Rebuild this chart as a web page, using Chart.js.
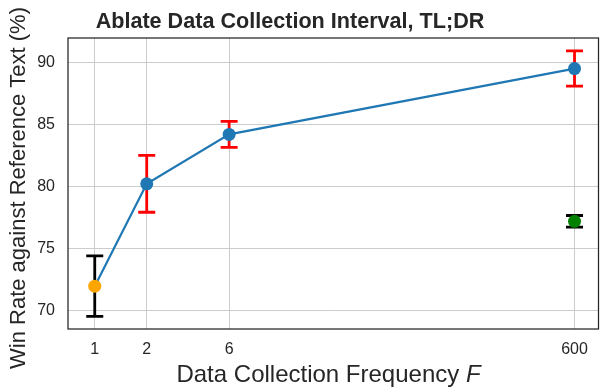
<!DOCTYPE html>
<html>
<head>
<meta charset="utf-8">
<script src="https://cdn.jsdelivr.net/npm/chart.js@4"></script>
<style>
  html, body { margin: 0; padding: 0; background: #fff; }
  #wrap { width: 605px; height: 389px; position: relative; }
</style>
</head>
<body>
<div id="wrap"><canvas id="chart"></canvas></div>
<script>
// data
const freq = [1, 2, 6, 600];
const winRate = [72.0, 80.24, 84.22, 89.52];
const winErr = [2.43, 2.29, 1.05, 1.42];
const baseFreq = [600];
const baseRate = [77.22];
const baseErr = [0.47];
const xTicks = [1, 2, 6, 600];
const yTicks = [70, 75, 80, 85, 90];

const FONT = '"Liberation Sans", Arial, sans-serif';
const INK = '#262626';

// error bars + frame + titles drawn through the scales
const extras = {
    id: 'extras',
    beforeDatasetsDraw(chart) {
        const { ctx, scales: { x, y } } = chart;
        const bars = [
            { xs: freq, ys: winRate, es: winErr, colors: ['#000000', '#ff0000', '#ff0000', '#ff0000'] },
            { xs: baseFreq, ys: baseRate, es: baseErr, colors: ['#000000'] }
        ];
        ctx.save();
        ctx.lineWidth = 2.8;
        ctx.lineCap = 'butt';
        bars.forEach(b => {
            b.xs.forEach((v, i) => {
                const px = x.getPixelForValue(v);
                const top = y.getPixelForValue(b.ys[i] + b.es[i]);
                const bot = y.getPixelForValue(b.ys[i] - b.es[i]);
                ctx.strokeStyle = b.colors[i];
                ctx.beginPath();
                ctx.moveTo(px, top); ctx.lineTo(px, bot);
                ctx.moveTo(px - 8.5, top); ctx.lineTo(px + 8.5, top);
                ctx.moveTo(px - 8.5, bot); ctx.lineTo(px + 8.5, bot);
                ctx.stroke();
            });
        });
        ctx.restore();
    },
    afterDraw(chart) {
        const { ctx, chartArea: a } = chart;
        ctx.save();
        ctx.strokeStyle = INK;
        ctx.lineWidth = 1.25;
        ctx.strokeRect(a.left, a.top, a.right - a.left, a.bottom - a.top);

        ctx.fillStyle = INK;
        ctx.textBaseline = 'alphabetic';
        // title
        ctx.font = 'bold 21.6px ' + FONT;
        ctx.textAlign = 'center';
        ctx.fillText('Ablate Data Collection Interval, TL;DR', 290, 28);

        // y axis title
        ctx.save();
        ctx.translate(25, 188);
        ctx.rotate(-Math.PI / 2);
        ctx.font = '22px ' + FONT;
        ctx.fillText('Win Rate against Reference Text (%)', 0, 0);
        ctx.restore();

        // x axis title with italic F
        const main = 'Data Collection Frequency ';
        ctx.font = '24px ' + FONT;
        const w1 = ctx.measureText(main).width;
        ctx.font = 'italic 24px ' + FONT;
        const w2 = ctx.measureText('F').width;
        const start = 328.5 - (w1 + w2) / 2;
        ctx.textAlign = 'left';
        ctx.font = '24px ' + FONT;
        ctx.fillText(main, start, 382);
        ctx.font = 'italic 24px ' + FONT;
        ctx.fillText('F', start + w1, 382);
        ctx.restore();
    }
};

new Chart(document.getElementById('chart'), {
    type: 'line',
    data: {
        datasets: [
            {
                label: 'TL;DR',
                data: freq.map((f, i) => ({ x: f, y: winRate[i] })),
                borderColor: '#1f77b4',
                borderWidth: 2.2,
                pointRadius: 6.5,
                pointBorderWidth: 0,
                pointBackgroundColor: ['#ffa500', '#1f77b4', '#1f77b4', '#1f77b4'],
                tension: 0
            },
            {
                label: 'baseline',
                data: baseFreq.map((f, i) => ({ x: f, y: baseRate[i] })),
                showLine: false,
                pointRadius: 6.5,
                pointBorderWidth: 0,
                pointBackgroundColor: '#008000'
            }
        ]
    },
    options: {
        responsive: true,
        maintainAspectRatio: false,
        animation: false,
        layout: { padding: { top: 38, right: 3, bottom: 0, left: 0 } },
        plugins: {
            legend: { display: false },
            tooltip: { enabled: false }
        },
        scales: {
            x: {
                type: 'logarithmic',
                min: 0.726,
                max: 826,
                afterBuildTicks: s => { s.ticks = xTicks.map(v => ({ value: v })); },
                afterFit: s => { s.height = 60; },
                ticks: {
                    color: INK,
                    font: { family: FONT, size: 16 },
                    padding: 11,
                    maxRotation: 0,
                    callback: v => String(v)
                },
                grid: { color: '#cccccc', lineWidth: 1, drawTicks: false },
                border: { display: false }
            },
            y: {
                min: 68.55,
                max: 91.98,
                afterBuildTicks: s => { s.ticks = yTicks.map(v => ({ value: v })); },
                afterFit: s => { s.width = 68; },
                ticks: {
                    color: INK,
                    font: { family: FONT, size: 16 },
                    padding: 13
                },
                grid: { color: '#cccccc', lineWidth: 1, drawTicks: false },
                border: { display: false }
            }
        }
    },
    plugins: [extras]
});
</script>
</body>
</html>
